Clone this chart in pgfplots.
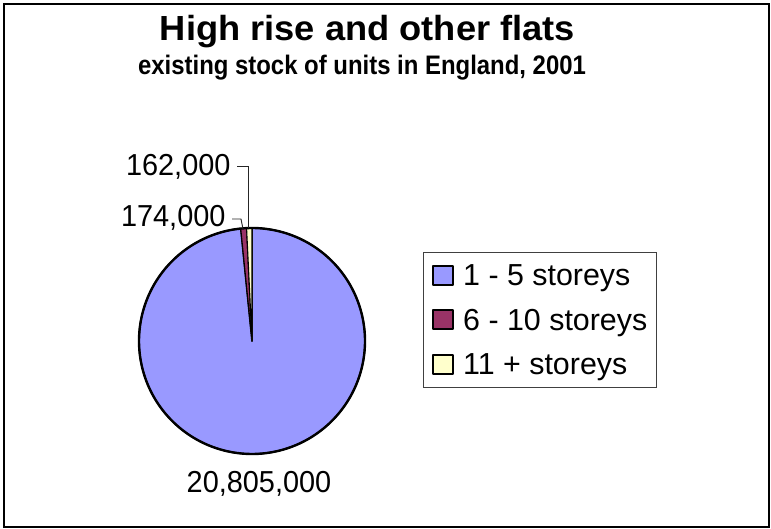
\documentclass[border=0pt]{standalone}
\usepackage{pgfplots}
\pgfplotsset{compat=1.18}
\usepackage{pgfplotstable}
\usepackage{fontspec}
\setmainfont{Liberation Sans}
\definecolor{sliceA}{HTML}{9999FF}
\definecolor{sliceB}{HTML}{993366}
\definecolor{sliceC}{HTML}{FFFFCC}
\pgfplotstableread{
label value
1-5 20805000
6-10 174000
11+ 162000
}\piedata
\pgfplotstablegetelem{0}{value}\of\piedata \edef\vA{\pgfplotsretval}
\pgfplotstablegetelem{1}{value}\of\piedata \edef\vB{\pgfplotsretval}
\pgfplotstablegetelem{2}{value}\of\piedata \edef\vC{\pgfplotsretval}
\edef\tot{\fpeval{\vA+\vB+\vC}}
\edef\aOne{\fpeval{90-360*\vA/\tot}}
\edef\aTwo{\fpeval{\aOne-360*\vB/\tot}}
\edef\aThree{\fpeval{\aTwo-360*\vC/\tot}}
\def\cx{252}
\def\cy{188}
\def\rr{113}
\begin{document}
\begin{tikzpicture}
\useasboundingbox (0,0) rectangle (771bp,529bp);
\begin{axis}[
  width=771bp, height=529bp, scale only axis,
  xmin=0, xmax=771, ymin=0, ymax=529,
  axis lines=none, clip=false,
  legend cell align=left,
  legend style={at={(axis cs:423,277)}, anchor=north west,
    draw=black!75, line width=0.8bp,
    font=\fontsize{30.5}{36}\selectfont,
    inner xsep=9bp, inner ysep=12.5bp,
    row sep=23.5bp, column sep=0bp,
    nodes={inner sep=0pt, text height=21bp, text depth=0pt}},
  legend image code/.code={\draw[#1,draw=black,line width=1.8bp] (0bp,-9.5bp) rectangle (20bp,9.5bp);},
]
\addplot[fill=sliceA, draw=black, line width=1.6bp, line join=round, domain=\aOne:90, samples=200, variable=\t]
  ({\cx+\rr*cos(\t)},{\cy+\rr*sin(\t)}) -- (axis cs:\cx,\cy) -- cycle;
\addlegendentry{\hspace{9bp}1 - 5 storeys\hspace{3bp}}
\addplot[fill=sliceB, draw=black, line width=1.1bp, line join=round, domain=\aTwo:\aOne, samples=6, variable=\t]
  ({\cx+\rr*cos(\t)},{\cy+\rr*sin(\t)}) -- (axis cs:\cx,\cy) -- cycle;
\addlegendentry{\hspace{9bp}6 - 10 storeys\hspace{3bp}}
\addplot[fill=sliceC, draw=black, line width=1.1bp, line join=round, domain=\aThree:\aTwo, samples=6, variable=\t]
  ({\cx+\rr*cos(\t)},{\cy+\rr*sin(\t)}) -- (axis cs:\cx,\cy) -- cycle;
\addlegendentry{\hspace{9bp}11 + storeys\hspace{3bp}}
% outer circle
\addplot[draw=black, line width=2.4bp, domain=0:360, samples=200, variable=\t, forget plot]
  ({\cx+\rr*cos(\t)},{\cy+\rr*sin(\t)});
% leader lines
\addplot[black!85, line width=0.9bp, forget plot] coordinates {(237,363) (248,363) (248,301)};
\addplot[black!85, line width=0.9bp, forget plot] coordinates {(232,310) (241,310) (243,300)};
% labels
\node[anchor=base east, font=\fontsize{29}{34}\selectfont] at (axis cs:234,353) {\scalebox{1}[1.05]{162,000}};
\node[anchor=base east, font=\fontsize{29}{34}\selectfont] at (axis cs:229,302) {\scalebox{1}[1.05]{174,000}};
\node[anchor=base, font=\fontsize{29}{34}\selectfont] at (axis cs:259,36) {\scalebox{1}[1.05]{20,805,000}};
% titles
\node[anchor=base, font=\bfseries\fontsize{35}{40}\selectfont] at (axis cs:367.5,488) {\scalebox{1.04}[1]{High rise and other flats}};
\node[anchor=base, font=\bfseries\fontsize{24}{28}\selectfont] at (axis cs:362,454) {\scalebox{1}[1.12]{existing stock of units in England, 2001}};
\end{axis}
\draw[line width=2bp] (4bp,2bp) rectangle (768.5bp,525bp);
\end{tikzpicture}
\end{document}
